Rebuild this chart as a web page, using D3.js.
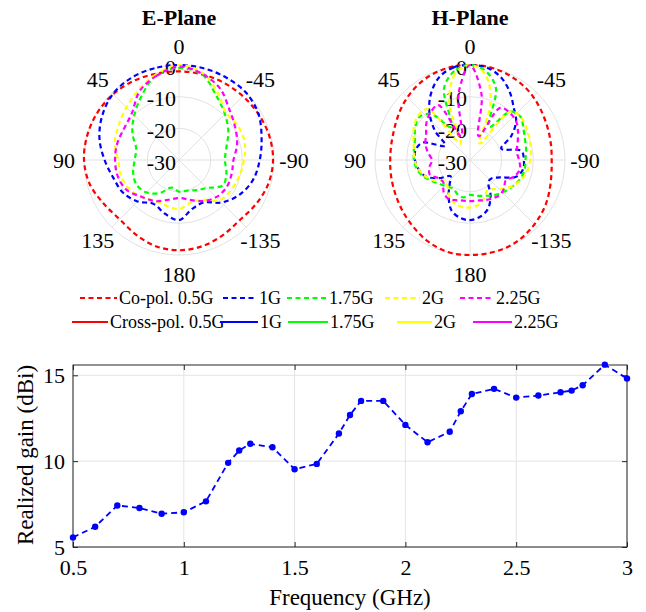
<!DOCTYPE html>
<html>
<head>
<meta charset="utf-8">
<script src="https://cdn.jsdelivr.net/npm/d3@7"></script>
<style>
  body { margin: 0; background: #fff; }
  text { font-family: "Liberation Serif", "Times New Roman", serif; fill: #000; }
</style>
</head>
<body>
<div id="chart"></div>
<script>
// ---- radiation pattern data (dB, normalised), angle ccw from boresight ----
const thetaE = [0, 15, 30, 45, 60, 75, 90, 105, 120, 135, 150, 165, 180,
  -165, -150, -135, -120, -105, -90, -75, -60, -45, -30, -15];
const eRed = [-2, -1.8, -1.2, -0.6, -0.2, 0, 0, -0.8, -2.5, -3.5, -2.8, -1.8, -1.5,
  -1.8, -2.5, -3, -2, -0.8, -0.3, -0.5, -1, -1.5, -1.8, -2];
const eBlue = [0, 0, 0, -0.5, -2, -4, -6.5, -8.5, -9.5, -11.5, -14, -12.5, -11,
  -14, -14.5, -11, -8, -5.8, -4.5, -3, -1, 0, 0, 0];
const eGreen = [-1, -2.2, -6.5, -10, -13, -16, -16, -15, -14.5, -15.5, -18, -21, -20,
  -20, -19, -17.5, -14, -14.5, -15.5, -14.5, -12, -9.5, -6.5, -2];
const eYellow = [0, -2, -4.5, -6.5, -8, -9, -10.8, -11, -11.8, -13.5, -15, -15, -14.5,
  -16, -15.5, -12, -11, -10.3, -9.5, -8.5, -8.5, -9, -5.5, -1.5];
const eMagenta = [-0.5, -2.5, -5, -9, -10, -9.8, -9.8, -10, -11, -13.5, -15, -17, -18,
  -17, -15, -13.4, -12.7, -12.8, -12.8, -11, -9.5, -7.5, -4, -1.8];

const thetaH = [0, 10, 20, 30, 40, 50, 60, 70, 80, 90, 100, 110, 120, 130, 140, 150, 160, 170, 180,
  -170, -160, -150, -140, -130, -120, -110, -100, -90, -80, -70, -60, -50, -40, -30, -20, -10];
const hRed = [0, 0, -0.3, -0.8, -1.6, -2.5, -3.5, -4.3, -4.7, -4.8, -4.6, -4.3, -3.8, -3.1, -2.3, -1.3, -0.5, 0, 0,
  0, 0, -0.3, -0.9, -1.6, -2.3, -3.2, -3.9, -4.2, -4.0, -3.6, -3.0, -2.2, -1.4, -0.8, -0.3, 0];
const hBlue = [0, -0.3, -2, -5.5, -10, -15.5, -21, -14, -12.5, -12.6, -13.5, -15, -18.5, -22, -20, -16.5, -13, -11.5, -11,
  -11.8, -13.5, -17, -21, -21, -19, -14.5, -13, -13, -13.5, -19.5, -15, -11, -8.5, -5, -2, -0.3];
const hGreen = [0, -1.5, -6, -18, -11, -9, -10, -11.5, -12, -12.3, -13, -14.5, -16.5, -18, -19, -19.5, -18.5, -18, -19,
  -18.5, -18, -17, -16, -15, -14, -13, -12.5, -12.5, -12, -11.5, -10.5, -9, -10, -18, -6, -1.5];
const hYellow = [0, -2.5, -11, -24, -9, -8.5, -9.5, -11, -12, -12.5, -13.5, -15, -17, -19.5, -19, -17, -15.5, -15, -15,
  -15.5, -17, -19, -18, -16, -14, -12.5, -11.5, -11, -10.5, -10, -9.5, -9, -10, -24, -11, -2.5];
const hMagenta = [0, -9, -22, -10, -10.5, -12, -14, -15, -16.5, -18, -17, -16.5, -18.5, -19, -17, -16, -16.5, -17, -17,
  -17, -16.5, -16, -15.5, -16, -17, -15, -14, -14.5, -15, -14, -12.5, -11, -10.5, -11, -22, -9];

const freqLabels = ['0.5G', '1G', '1.75G', '2G', '2.25G'];
const colors = ['#ff0000', '#0000ff', '#00ff00', '#ffff00', '#ff00ff'];
const rTicks = [-30, -20, -10, 0];
const thetaTicks = [0, 45, 90, 135, 180, -135, -90, -45];

// ---- realized gain data ----
const freq = [0.5, 0.6, 0.7, 0.8, 0.9, 1.0, 1.1, 1.2, 1.25, 1.3, 1.4, 1.5, 1.6, 1.7, 1.75,
  1.8, 1.9, 2.0, 2.1, 2.2, 2.25, 2.3, 2.4, 2.5, 2.6, 2.7, 2.75, 2.8, 2.9, 3.0];
const gain = [5.56, 6.18, 7.42, 7.27, 6.94, 7.02, 7.66, 9.9, 10.62, 11.01, 10.81, 9.53, 9.84, 11.61, 12.69,
  13.51, 13.51, 12.11, 11.1, 11.71, 12.91, 13.91, 14.21, 13.7, 13.82, 14.01, 14.11, 14.42, 15.62, 14.81];
const xTicks = [0.5, 1, 1.5, 2, 2.5, 3];
const yTicks = [5, 10, 15];

const svg = d3.select('#chart')
    .append('svg')
    .attr('width', 646)
    .attr('height', 612);

// ---- polar plots ----
const R = 95;
const rScale = d3.scaleLinear().domain([-30, 0]).range([0, R]).clamp(true);
const rad = d => d * Math.PI / 180;

function polar(cx, cy, title, theta, series) {
    const g = svg.append('g').attr('transform', `translate(${cx},${cy})`);

    g.selectAll('circle.ring')
        .data(rTicks.slice(1))
        .enter()
        .append('circle')
        .attr('r', d => rScale(d))
        .attr('fill', 'none')
        .attr('stroke', '#e2e2e2')
        .attr('stroke-width', 1);

    g.selectAll('line.spoke')
        .data(thetaTicks)
        .enter()
        .append('line')
        .attr('x1', 0).attr('y1', 0)
        .attr('x2', d => -R * Math.sin(rad(d)))
        .attr('y2', d => -R * Math.cos(rad(d)))
        .attr('stroke', '#e2e2e2')
        .attr('stroke-width', 1);

    g.selectAll('text.theta')
        .data(thetaTicks)
        .enter()
        .append('text')
        .attr('x', d => -(R + 20) * Math.sin(rad(d)))
        .attr('y', d => -(R + 19) * Math.cos(rad(d)))
        .attr('text-anchor', 'middle')
        .attr('dominant-baseline', 'central')
        .attr('font-size', '22px')
        .text(d => d);

    g.selectAll('text.rtick')
        .data(rTicks)
        .enter()
        .append('text')
        .attr('x', -3)
        .attr('y', d => -rScale(d) + 2)
        .attr('text-anchor', 'end')
        .attr('dominant-baseline', 'central')
        .attr('font-size', '22px')
        .text(d => d);

    const line = d3.lineRadial()
        .angle((d, i) => -rad(theta[i]))
        .radius(d => rScale(d))
        .curve(d3.curveCatmullRomClosed.alpha(0.5));

    series.forEach((s, i) => {
        g.append('path')
            .attr('d', line(s))
            .attr('fill', 'none')
            .attr('stroke', colors[i])
            .attr('stroke-width', 2.2)
            .attr('stroke-dasharray', '5,3.5');
    });

    svg.append('text')
        .attr('x', cx)
        .attr('y', 25)
        .attr('text-anchor', 'middle')
        .attr('font-size', '22px')
        .attr('font-weight', 'bold')
        .text(title);
}

polar(179, 160, 'E-Plane', thetaE, [eRed, eBlue, eGreen, eYellow, eMagenta]);
polar(470, 160, 'H-Plane', thetaH, [hRed, hBlue, hGreen, hYellow, hMagenta]);

// ---- legend ----
const legRows = [
    { y: 298, dash: '5,3.5', first: 'Co-pol. ', lines: [[80, 117], [223, 257], [287, 327], [385, 420], [460, 494]] },
    { y: 322, dash: null, first: 'Cross-pol. ', lines: [[72, 108], [220, 258], [288, 328], [397, 432], [473, 512]] }
];
legRows.forEach(row => {
    row.lines.forEach((l, i) => {
        svg.append('line')
            .attr('x1', l[0]).attr('x2', l[1])
            .attr('y1', row.y).attr('y2', row.y)
            .attr('stroke', colors[i])
            .attr('stroke-width', 2.2)
            .attr('stroke-dasharray', row.dash);
        svg.append('text')
            .attr('x', l[1] + 2)
            .attr('y', row.y)
            .attr('dominant-baseline', 'central')
            .attr('font-size', '18px')
            .text((i === 0 ? row.first : '') + freqLabels[i]);
    });
});

// ---- realized gain plot ----
const x = d3.scaleLinear().domain([0.5, 3]).range([73, 627]);
const y = d3.scaleLinear().domain([5, 15.6]).range([547, 365]);

const grid = svg.append('g');
grid.selectAll('line.vx')
    .data(xTicks)
    .enter()
    .append('line')
    .attr('x1', d => x(d)).attr('x2', d => x(d))
    .attr('y1', y.range()[0]).attr('y2', y.range()[1])
    .attr('stroke', '#e4e4e4');
grid.selectAll('line.hy')
    .data(yTicks)
    .enter()
    .append('line')
    .attr('x1', x.range()[0]).attr('x2', x.range()[1])
    .attr('y1', d => y(d)).attr('y2', d => y(d))
    .attr('stroke', '#e4e4e4');

const xAxis = svg.append('g')
    .attr('transform', `translate(0,${y.range()[0]})`)
    .call(d3.axisBottom(x).tickValues(xTicks).tickSize(-5).tickPadding(12).tickFormat(d3.format('')));
const xAxisTop = svg.append('g')
    .attr('transform', `translate(0,${y.range()[1]})`)
    .call(d3.axisTop(x).tickValues(xTicks).tickSize(-5).tickFormat(''));
const yAxis = svg.append('g')
    .attr('transform', `translate(${x.range()[0]},0)`)
    .call(d3.axisLeft(y).tickValues(yTicks).tickSize(-5).tickPadding(8));
const yAxisRight = svg.append('g')
    .attr('transform', `translate(${x.range()[1]},0)`)
    .call(d3.axisRight(y).tickValues(yTicks).tickSize(-5).tickFormat(''));

[xAxis, xAxisTop, yAxis, yAxisRight].forEach(a => {
    a.select('.domain').remove();
    a.selectAll('line').attr('stroke', '#262626');
    a.selectAll('text')
        .attr('font-family', '"Liberation Serif", "Times New Roman", serif')
        .attr('font-size', '22px')
        .attr('fill', '#262626');
});

svg.append('rect')
    .attr('x', x.range()[0])
    .attr('y', y.range()[1])
    .attr('width', x.range()[1] - x.range()[0])
    .attr('height', y.range()[0] - y.range()[1])
    .attr('fill', 'none')
    .attr('stroke', '#262626')
    .attr('stroke-width', 1);

const gainLine = d3.line()
    .x((d, i) => x(freq[i]))
    .y(d => y(d));

svg.append('path')
    .attr('d', gainLine(gain))
    .attr('fill', 'none')
    .attr('stroke', '#0000ff')
    .attr('stroke-width', 1.8)
    .attr('stroke-dasharray', '6,4');

svg.selectAll('circle.pt')
    .data(gain)
    .enter()
    .append('circle')
    .attr('cx', (d, i) => x(freq[i]))
    .attr('cy', d => y(d))
    .attr('r', 3.2)
    .attr('fill', '#0000ff');

svg.append('text')
    .attr('x', 350)
    .attr('y', 605)
    .attr('text-anchor', 'middle')
    .attr('font-size', '23px')
    .attr('fill', '#262626')
    .text('Frequency (GHz)');

svg.append('text')
    .attr('transform', 'translate(33,455) rotate(-90)')
    .attr('text-anchor', 'middle')
    .attr('font-size', '23px')
    .attr('fill', '#262626')
    .text('Realized gain (dBi)');
</script>
</body>
</html>
